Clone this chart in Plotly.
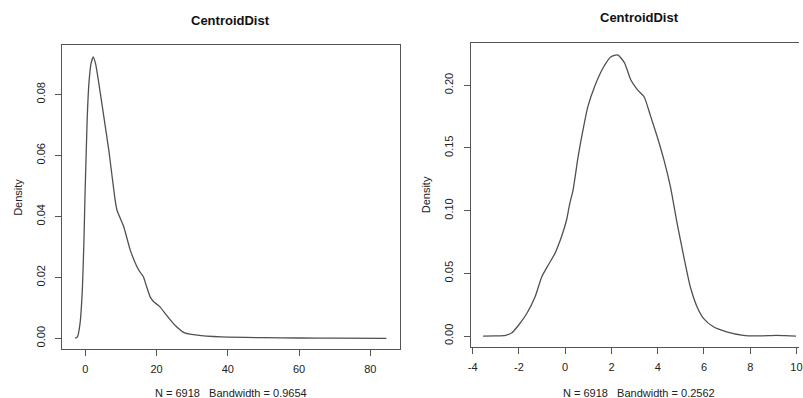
import plotly.graph_objects as go

# ---- data ----
left_x = [-2.87, -2.2, -1.47, -0.83, -0.37, -0.09, 0.28, 0.56, 1.02, 1.6, 2.23, 2.9, 3.8, 5.2, 6.6,
          8.25, 8.9, 10.8, 12.6, 14.5, 15.5, 16.3, 17.2, 18.2, 19.2, 20.9, 22.8, 25.1, 27.9,
          29.8, 32.5, 36.0, 40.0, 50.0, 60.0, 70.0, 84.5]
left_d = [0.0001, 0.0005, 0.0049, 0.0158, 0.0322, 0.0464, 0.0617, 0.0727, 0.0836, 0.0900, 0.0923, 0.0900, 0.0836, 0.0727, 0.0617,
          0.0464, 0.0420, 0.0366, 0.0290, 0.0235, 0.0215, 0.0202, 0.0170, 0.0136, 0.0120, 0.0104, 0.0076, 0.0044, 0.0018,
          0.0013, 0.0009, 0.0006, 0.0004, 0.0002, 0.0001, 0.00005, 0.0]

right_x = [-3.55, -3.0, -2.58, -2.3, -2.01, -1.66, -1.3, -1.01, -0.73, -0.44, -0.16, 0.06, 0.2, 0.34, 0.56,
           0.77, 0.98, 1.27, 1.63, 1.98, 2.27, 2.56, 2.84, 3.13, 3.41, 3.7, 3.98, 4.27, 4.55, 4.84,
           5.13, 5.41, 5.7, 5.98, 6.41, 6.98, 7.7, 8.27, 8.8, 9.12, 9.5, 9.98]
right_d = [0.0, 0.0001, 0.0006, 0.0026, 0.0088, 0.0180, 0.0313, 0.0473, 0.0566, 0.0660, 0.0792, 0.0925, 0.1058, 0.1164, 0.1430,
           0.1643, 0.1829, 0.1988, 0.2135, 0.2227, 0.2241, 0.2180, 0.2041, 0.1962, 0.1908, 0.1749, 0.1589, 0.1404, 0.1191, 0.0899,
           0.0632, 0.0393, 0.0234, 0.0141, 0.0074, 0.0034, 0.0006, 0.0001, 0.0003, 0.0005, 0.0003, 0.0]

left_xticks = [0, 20, 40, 60, 80]
left_xticklabels = ["0", "20", "40", "60", "80"]
left_yticks = [0.00, 0.02, 0.04, 0.06, 0.08]
left_yticklabels = ["0.00", "0.02", "0.04", "0.06", "0.08"]
right_xticks = [-4, -2, 0, 2, 4, 6, 8, 10]
right_xticklabels = ["-4", "-2", "0", "2", "4", "6", "8", "10"]
right_yticks = [0.00, 0.05, 0.10, 0.15, 0.20]
right_yticklabels = ["0.00", "0.05", "0.10", "0.15", "0.20"]

title_text = "CentroidDist"
ylabel_text = "Density"
left_sub = "N = 6918\u00a0\u00a0\u00a0Bandwidth = 0.9654"
right_sub = "N = 6918\u00a0\u00a0\u00a0Bandwidth = 0.2562"

W, H = 803, 398
FONT = "Liberation Sans, Arial, Helvetica, sans-serif"
LINE = "#555555"
TXT = "#222222"

fig = go.Figure()
fig.add_trace(go.Scatter(x=left_x, y=left_d, mode="lines", line=dict(color="#505050", width=1.3, shape="spline", smoothing=0.5),
                         xaxis="x", yaxis="y", showlegend=False, hoverinfo="skip"))
fig.add_trace(go.Scatter(x=right_x, y=right_d, mode="lines", line=dict(color="#505050", width=1.3, shape="spline", smoothing=0.6),
                         xaxis="x2", yaxis="y2", showlegend=False, hoverinfo="skip"))

def px_x(p):
    return p / W

def px_y(p):
    return (H - p) / H

axis_common = dict(showgrid=False, zeroline=False, showline=True, linecolor=LINE, linewidth=1,
                   ticks="outside", ticklen=6, tickcolor=LINE, tickwidth=1,
                   ticklabeloverflow="allow",
                   tickfont=dict(family=FONT, size=11, color=TXT))

fig.update_layout(
    width=W, height=H, margin=dict(l=0, r=0, t=0, b=0),
    paper_bgcolor="white", plot_bgcolor="white",
    xaxis=dict(domain=[px_x(60), px_x(400)], range=[-6.40, 88.18], tickvals=left_xticks, ticktext=left_xticklabels,
               anchor="y", mirror=True, ticklabelstandoff=4, **axis_common),
    yaxis=dict(domain=[px_y(349), px_y(45)], range=[-0.0035, 0.0962], tickvals=left_yticks, ticktext=left_yticklabels,
               tickangle=-90, anchor="x", mirror=True, ticklabelstandoff=6, **axis_common),
    xaxis2=dict(domain=[px_x(471.7), 1.0], range=[-4.09, 10.11], tickvals=right_xticks, ticktext=right_xticklabels,
                anchor="y2", mirror=True, ticklabelstandoff=4, **axis_common),
    yaxis2=dict(domain=[px_y(346.7), px_y(43.3)], range=[-0.0085, 0.2334], tickvals=right_yticks, ticktext=right_yticklabels,
                tickangle=-90, anchor="x2", mirror=False, ticklabelstandoff=6, **axis_common),
)

ann = []
for cx, ty in [(230, 20), (642, 18)]:
    ann.append(dict(text="<b>" + title_text + "</b>", x=px_x(cx), y=px_y(ty), xref="paper", yref="paper",
                    xanchor="center", yanchor="middle", showarrow=False,
                    font=dict(family=FONT, size=13, color="#111111")))
for cx, cy in [(15, 197), (427, 195)]:
    ann.append(dict(text=ylabel_text, x=px_x(cx), y=px_y(cy), xref="paper", yref="paper",
                    xanchor="center", yanchor="middle", textangle=-90, showarrow=False,
                    font=dict(family=FONT, size=11, color=TXT)))
for cx, cy, t in [(230, 393, left_sub), (642, 393, right_sub)]:
    ann.append(dict(text=t, x=px_x(cx), y=px_y(cy), xref="paper", yref="paper",
                    xanchor="center", yanchor="middle", showarrow=False,
                    font=dict(family=FONT, size=11, color=TXT)))
fig.update_layout(annotations=ann)

fig.write_html("out.html")
